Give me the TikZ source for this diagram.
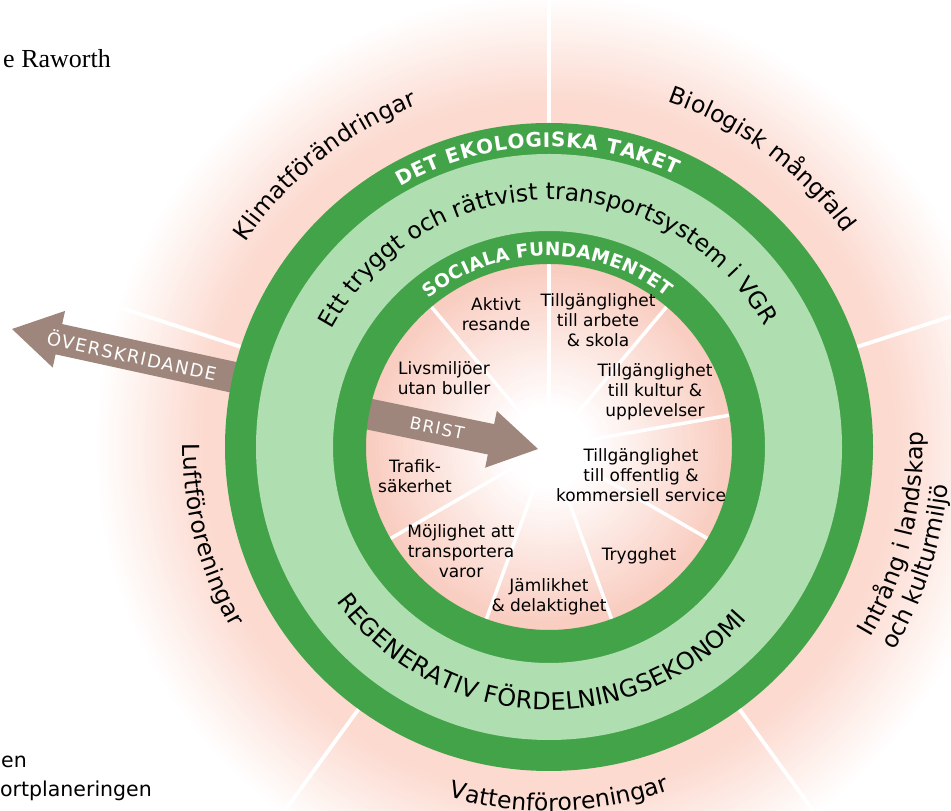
\documentclass[tikz,border=0pt]{standalone}
\usepackage{fontspec}
\setmainfont{DejaVu Sans}
\newfontfamily\serifraw{Liberation Serif}
\newfontfamily\spacedfont[LetterSpace=8]{DejaVu Sans}
\usetikzlibrary{decorations.text}
\definecolor{dgreen}{RGB}{67,163,72}
\definecolor{lgreen}{RGB}{175,222,176}
\definecolor{pinkin}{RGB}{249,203,190}
\definecolor{pinkout}{RGB}{252,218,207}
\definecolor{abrown}{RGB}{158,134,124}
\tikzset{
  ray/.style={white, line width=3.8pt},
  iray/.style={white, line width=3.5pt},
  seglabel/.style={align=center, inner sep=0pt, font=\fontsize{17}{20}\selectfont},
  arrowshape/.style={fill=abrown, draw=none},
  outertext/.style={decorate, decoration={text along path, text align=fit to path, text={|\fontsize{23.5}{23.5}\selectfont|#1}}},
  bandtext/.style={decorate, decoration={text along path, text align=fit to path, text={|\fontsize{23.5}{23.5}\selectfont|#1}}},
  ringtext/.style 2 args={decorate, decoration={text along path, text align=fit to path, text color=white, text={|\bfseries\fontsize{#1}{#1}\selectfont|#2}}},
}
\begin{document}
\begin{tikzpicture}[x=1pt,y=1pt]
\useasboundingbox (0,0) rectangle (951,811);
\clip (0,0) rectangle (951,811);
\coordinate (c) at (549,364);
% outer glow: concentric discs from white (outside) to pink (near the ring)
\foreach \i in {0,...,36} {
  \pgfmathsetmacro\rr{455-3*\i}
  \pgfmathsetmacro\pp{100*\i/36}
  \fill[pinkout!\pp!white] (c) circle[radius=\rr];
}
% planetary boundary rays
\foreach \a in {90,18,-54,-126,162}
  \draw[ray] ([shift={(\a:320)}]c) -- ([shift={(\a:600)}]c);
% overshoot arrow
\begin{scope}[shift={(12,482)}, rotate=167.7]
  \fill[arrowshape] (0,0) -- (-48,29) -- (-48,15.5) -- (-250,15.5) -- (-250,-15.5) -- (-48,-15.5) -- (-48,-29) -- cycle;
\end{scope}
% inner disk: pink at the rim fading to white at the centre
\foreach \i in {0,...,36} {
  \pgfmathsetmacro\rr{186-4*\i}
  \pgfmathsetmacro\pp{100-100*\i/36}
  \fill[pinkin!\pp!white] (c) circle[radius=\rr];
}
\foreach \a in {90,50,10,-30,-70,-110,-150,170,130}
  \draw[iray] (c) -- ([shift={(\a:190)}]c);
% shortfall arrow
\begin{scope}[shift={(538,362)}, rotate=-11.66]
  \fill[arrowshape] (0,0) -- (-48,29) -- (-48,15.5) -- (-195,15.5) -- (-195,-15.5) -- (-48,-15.5) -- (-48,-29) -- cycle;
\end{scope}
% rings
\fill[dgreen, even odd rule] (c) circle[radius=324] (c) circle[radius=183];
\fill[lgreen, even odd rule] (c) circle[radius=293] (c) circle[radius=216];
% arrow labels
\node[rotate=-12.3, text=white, inner sep=0pt, font=\spacedfont\fontsize{18}{18}\selectfont] (ovr) at (132,456) {ÖVERSKRIDANDE};
\node[rotate=-11.66, text=white, inner sep=0pt, font=\spacedfont\fontsize{17}{17}\selectfont] (brist) at (437,383) {BRIST};
% ring texts
\path[ringtext={20}{DET EKOLOGISKA TAKET}] ([shift={(119.7:300)}]c) arc[start angle=119.7, end angle=65, radius=300];
\path[ringtext={18.5}{SOCIALA FUNDAMENTET}] ([shift={(129:191)}]c) arc[start angle=129, end angle=52, radius=191];
\path[bandtext={Ett tryggt och rättvist transportsystem i VGR}] ([shift={(151.5:247)}]c) arc[start angle=151.5, end angle=30, radius=247];
\path[decorate, decoration={text along path, text align=fit to path, text={|\fontsize{24}{24}\selectfont|REGENERATIV FÖRDELNINGSEKONOMI}}] ([shift={(-144:263)}]c) arc[start angle=-144, end angle=-41, radius=263];
% outer labels
\path[outertext={Klimatförändringar}] ([shift={(146:366)}]c) arc[start angle=146, end angle=111, radius=366];
\path[outertext={Biologisk mångfald}] ([shift={(71:365)}]c) arc[start angle=71, end angle=37, radius=365];
\path[outertext={Intrång i landskap}] ([shift={(-30.7:374)}]c) arc[start angle=-30.7, end angle=2.4, radius=374];
\path[outertext={och kulturmiljö}] ([shift={(-30.5:401)}]c) arc[start angle=-30.5, end angle=-6, radius=401];
\path[outertext={Luftföroreningar}] ([shift={(179.5:366)}]c) arc[start angle=179.5, end angle=209.6, radius=366];
\path[outertext={Vattenföroreningar}] ([shift={(-106:364)}]c) arc[start angle=-106, end angle=-71, radius=364];
% segment labels
\node[seglabel] (aktivt) at (496,497) {Aktivt\\resande};
\node[seglabel] (arbete) at (598,491) {Tillgänglighet\\till arbete\\\& skola};
\node[seglabel] (kultur) at (655,419) {Tillgänglighet\\till kultur \&\\upplevelser};
\node[seglabel] (offentlig) at (641,336) {Tillgänglighet\\till offentlig \&\\kommersiell service};
\node[seglabel] (trygghet) at (639,255) {Trygghet};
\node[seglabel] (jamlikhet) at (549,214) {Jämlikhet\\\& delaktighet};
\node[seglabel] (mojlighet) at (461,260) {Möjlighet att\\transportera\\varor};
\node[seglabel] (trafik) at (415,335) {Trafik-\\säkerhet};
\node[seglabel] (livsmiljo) at (444,433) {Livsmiljöer\\utan buller};
% page texts
\node[anchor=base east, inner sep=0pt, font=\serifraw\fontsize{26}{26}\selectfont] (raworth) at (111,743) {e Raworth};
\node[anchor=base west, inner sep=0pt, font=\fontsize{20.5}{20.5}\selectfont] (en) at (1,43) {en};
\node[anchor=base west, inner sep=0pt, font=\fontsize{20.5}{20.5}\selectfont] (planering) at (0,14) {ortplaneringen};
\end{tikzpicture}
\end{document}
